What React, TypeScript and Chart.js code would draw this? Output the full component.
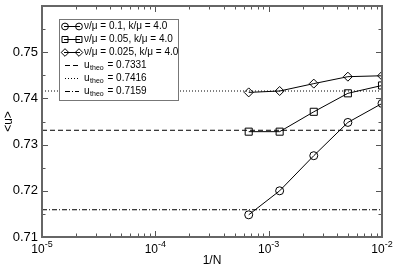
import React, { useEffect, useRef } from "react";
import { Chart, registerables } from "chart.js";

Chart.register(...registerables);

// ---- data ----
const invN = [1 / 1500, 1 / 800, 1 / 400, 1 / 200, 1 / 100];
const seriesLabels = ["ν/μ = 0.1, k/μ = 4.0", "ν/μ = 0.05, k/μ = 4.0", "ν/μ = 0.025, k/μ = 4.0"];
const uNu01 = [0.7148, 0.72, 0.7276, 0.7348, 0.7389];
const uNu005 = [0.7328, 0.7328, 0.7371, 0.7411, 0.7428];
const uNu0025 = [0.7413, 0.7416, 0.7432, 0.7447, 0.7449];
const uTheo = [0.7331, 0.7416, 0.7159];
const xRange = [1e-5, 1e-2];
const yRange = [0.71, 0.76];
const xMajorTicks = [1e-5, 1e-4, 1e-3, 1e-2];
const xTickExponents = ["-5", "-4", "-3", "-2"];
const yMajorTicks = [0.71, 0.72, 0.73, 0.74, 0.75, 0.76];
const yTickLabels = ["0.71", "0.72", "0.73", "0.74", "0.75", ""];
const yMinorTicks = [0.715, 0.725, 0.735, 0.745, 0.755];

const FONT = "'Liberation Sans', Arial, Helvetica, sans-serif";
const seriesStyles = [
  { pointStyle: "circle", radius: 4 },
  { pointStyle: "rect", radius: 5 },
  { pointStyle: "rectRot", radius: 4.5 },
];
const theoDash = [[5, 3], [1, 2], [5, 2, 1, 2]];

function drawMarker(ctx: CanvasRenderingContext2D, style: string, x: number, y: number, r: number) {
  ctx.beginPath();
  if (style === "circle") {
    ctx.arc(x, y, r, 0, Math.PI * 2);
  } else if (style === "rect") {
    const s = Math.SQRT1_2 * r;
    ctx.rect(x - s, y - s, 2 * s, 2 * s);
  } else {
    ctx.moveTo(x - r, y);
    ctx.lineTo(x, y - r);
    ctx.lineTo(x + r, y);
    ctx.lineTo(x, y + r);
    ctx.closePath();
  }
  ctx.stroke();
}

const framePlugin = {
  id: "framePlugin",
  afterDraw(chart: any) {
    const ctx: CanvasRenderingContext2D = chart.ctx;
    const xs = chart.scales.x;
    const ys = chart.scales.y;
    const { left, right, top, bottom } = chart.chartArea;
    ctx.save();
    // ticks
    ctx.strokeStyle = "#555";
    ctx.lineWidth = 1;
    const major = 6;
    const minor = 3.5;
    const xTick = (v: number, len: number) => {
      const px = Math.round(xs.getPixelForValue(v)) + 0.5;
      ctx.beginPath();
      ctx.moveTo(px, bottom);
      ctx.lineTo(px, bottom - len);
      ctx.moveTo(px, top);
      ctx.lineTo(px, top + len);
      ctx.stroke();
    };
    const yTick = (v: number, len: number) => {
      const py = Math.round(ys.getPixelForValue(v)) + 0.5;
      ctx.beginPath();
      ctx.moveTo(left, py);
      ctx.lineTo(left + len, py);
      ctx.moveTo(right, py);
      ctx.lineTo(right - len, py);
      ctx.stroke();
    };
    xMajorTicks.forEach((v) => xTick(v, major));
    for (let d = 0; d < xMajorTicks.length - 1; d++) {
      for (let m = 2; m <= 9; m++) xTick(xMajorTicks[d] * m, minor);
    }
    yMajorTicks.forEach((v) => yTick(v, major));
    yMinorTicks.forEach((v) => yTick(v, minor));
    // frame
    ctx.strokeStyle = "#666";
    ctx.lineWidth = 2;
    ctx.strokeRect(left, top, right - left, bottom - top);

    // y labels
    ctx.fillStyle = "#000";
    ctx.font = `13px ${FONT}`;
    ctx.textAlign = "right";
    ctx.textBaseline = "middle";
    yMajorTicks.forEach((v, i) => {
      if (!yTickLabels[i]) return;
      ctx.fillText(yTickLabels[i], left - 4, ys.getPixelForValue(v));
    });
    // x labels
    ctx.textBaseline = "alphabetic";
    ctx.textAlign = "left";
    xMajorTicks.forEach((v, i) => {
      const px = xs.getPixelForValue(v);
      ctx.font = `12px ${FONT}`;
      const w1 = ctx.measureText("10").width;
      ctx.font = `9px ${FONT}`;
      const w2 = ctx.measureText(xTickExponents[i]).width;
      const x0 = px - (w1 + w2) / 2;
      ctx.font = `12px ${FONT}`;
      ctx.fillText("10", x0, bottom + 16);
      ctx.font = `9px ${FONT}`;
      ctx.fillText(xTickExponents[i], x0 + w1, bottom + 10);
    });
    // titles
    ctx.font = `12px ${FONT}`;
    ctx.textAlign = "center";
    ctx.textBaseline = "middle";
    ctx.fillText("1/N", (left + right) / 2, bottom + 24);
    ctx.save();
    ctx.translate(9, (top + bottom) / 2);
    ctx.rotate(-Math.PI / 2);
    ctx.fillText("<u>", 0, 0);
    ctx.restore();

    // legend
    const lx = 59, ly = 19, lw = 119, lh = 81;
    ctx.fillStyle = "#fff";
    ctx.fillRect(lx, ly, lw, lh);
    ctx.strokeStyle = "#777";
    ctx.lineWidth = 1;
    ctx.strokeRect(lx + 0.5, ly + 0.5, lw, lh);
    ctx.fillStyle = "#000";
    ctx.strokeStyle = "#000";
    ctx.textAlign = "left";
    ctx.textBaseline = "middle";
    const rowY = (i: number) => ly + 6.5 + i * 13;
    seriesLabels.forEach((lab, i) => {
      const y = Math.round(rowY(i)) + 0.5;
      ctx.setLineDash([]);
      ctx.beginPath();
      ctx.moveTo(64, y);
      ctx.lineTo(80, y);
      ctx.stroke();
      const st = seriesStyles[i];
      drawMarker(ctx, st.pointStyle, 65, y, st.radius * 0.85);
      drawMarker(ctx, st.pointStyle, 79, y, st.radius * 0.85);
      ctx.font = `10px ${FONT}`;
      ctx.fillText(lab, 84, y);
    });
    uTheo.forEach((v, j) => {
      const i = j + 3;
      const y = Math.round(rowY(i)) + 0.5;
      ctx.setLineDash(theoDash[j]);
      ctx.beginPath();
      ctx.moveTo(65, y);
      ctx.lineTo(79, y);
      ctx.stroke();
      ctx.setLineDash([]);
      ctx.font = `10px ${FONT}`;
      let x = 84;
      ctx.fillText("u", x, y);
      x += ctx.measureText("u").width + 0.5;
      ctx.font = `7px ${FONT}`;
      ctx.fillText("theo", x, y + 3);
      x += ctx.measureText("theo").width + 1;
      ctx.font = `10px ${FONT}`;
      ctx.fillText(" = " + v.toFixed(4), x, y);
    });
    ctx.restore();
  },
};

export default function App() {
  const ref = useRef<HTMLCanvasElement>(null);
  useEffect(() => {
    document.body.style.margin = "0";
    const seriesData = [uNu01, uNu005, uNu0025];
    const datasets: any[] = seriesData.map((arr, i) => ({
      label: seriesLabels[i],
      data: arr.map((y, k) => ({ x: invN[k], y })),
      borderColor: "#000",
      borderWidth: 1,
      pointStyle: seriesStyles[i].pointStyle,
      pointRadius: seriesStyles[i].radius,
      pointBorderColor: "#000",
      pointBackgroundColor: "rgba(0,0,0,0)",
      pointBorderWidth: 1,
      fill: false,
      tension: 0,
    }));
    uTheo.forEach((v, j) => {
      datasets.push({
        label: "u_theo = " + v,
        data: [{ x: xRange[0], y: v }, { x: xRange[1], y: v }],
        borderColor: "#000",
        borderWidth: 1,
        borderDash: theoDash[j],
        pointRadius: 0,
        fill: false,
      });
    });
    const chart = new Chart(ref.current!, {
      type: "line",
      data: { datasets },
      options: {
        animation: false,
        responsive: false,
        maintainAspectRatio: false,
        layout: { padding: { left: 42, right: 13, top: 2, bottom: 36 } },
        plugins: { legend: { display: false }, tooltip: { enabled: false } },
        scales: {
          x: { type: "logarithmic", min: xRange[0], max: xRange[1], display: false },
          y: { type: "linear", min: yRange[0], max: yRange[1], display: false },
        },
      },
      plugins: [framePlugin],
    });
    return () => chart.destroy();
  }, []);
  return (
    <div style={{ width: 395, height: 273, background: "#fff" }}>
      <canvas ref={ref} width={395} height={273} style={{ display: "block" }} />
    </div>
  );
}
